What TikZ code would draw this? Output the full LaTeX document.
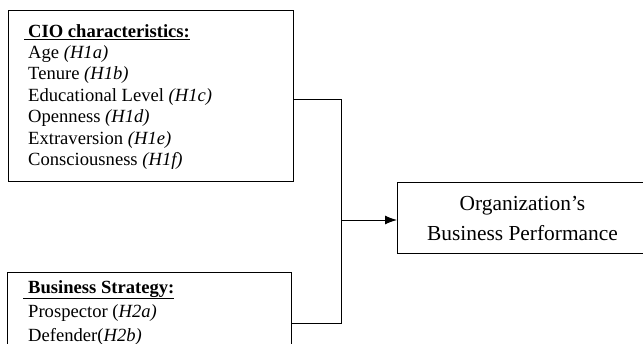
\documentclass[tikz,border=0pt]{standalone}
\usepackage{fontspec}
\setmainfont{Liberation Serif}
\usetikzlibrary{arrows.meta}

\tikzset{
box/.style={draw, line width=1pt, inner sep=0pt},
listtext/.style={anchor=north west, align=left, inner sep=0pt, font=\fontsize{18.6}{21.4}\selectfont},
link/.style={line width=1pt}
}

\begin{document}
\begin{tikzpicture}[x=1pt,y=-1pt]

\clip (0,0) rectangle (643,343);
\fill[white] (0,0) rectangle (643,343);

% boxes
\node[box, anchor=north west, minimum width=285pt, minimum height=171pt] (cio) at (8,10) {};
\node[box, anchor=north west, minimum width=284pt, minimum height=110pt] (strat) at (7,272) {};
\node[box, anchor=north west, minimum width=250pt, minimum height=71pt, align=center,
      font=\fontsize{21.4}{30}\selectfont] (org) at (397,182) {Organization's\\Business Performance};

% texts
\node[listtext] (cioText) at (28,24) {\hspace{-4pt}\underline{\hspace{4pt}\textbf{CIO characteristics:}}\\
Age \textit{(H1a)}\\
Tenure \textit{(H1b)}\\
Educational Level \textit{(H1c)}\\
Openness \textit{(H1d)}\\
Extraversion \textit{(H1e)}\\
Consciousness \textit{(H1f)}};
\node[listtext, font=\fontsize{18.6}{24}\selectfont] (stratText) at (28,280) {\hspace{-5pt}\underline{\hspace{5pt}\textbf{Business Strategy:}}\\
Prospector (\textit{H2a)}\\
Defender(\textit{H2b)}};

% connectors
\coordinate (j1) at (341,99);
\coordinate (j2) at (341,323);
\draw[link] (cio.east |- j1) -- (j1) -- (j2) -- (strat.east |- j2);
\draw[link, -{Latex[length=12pt,width=9pt]}] (j1 |- 0,220) -- (org.west |- 0,220);

\end{tikzpicture}
\end{document}
